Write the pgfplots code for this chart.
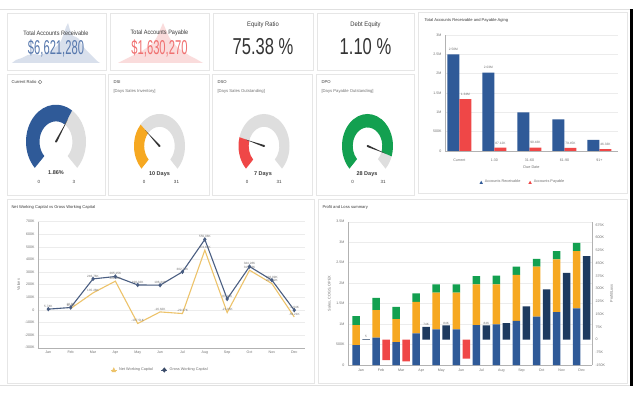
\documentclass[border=0pt]{standalone}
\usepackage{pgfplots}
\pgfplotsset{compat=1.18}
\usepackage{fontspec}
\setmainfont{Liberation Sans}
\setsansfont{Liberation Sans}
\definecolor{arblue}{HTML}{2F5A98}
\definecolor{apred}{HTML}{EF4747}
\definecolor{gorange}{HTML}{F6A821}
\definecolor{ggreen}{HTML}{13A050}
\definecolor{navy}{HTML}{1E3A5F}
\definecolor{ggray}{HTML}{DEDEDE}
\definecolor{txt}{HTML}{3A3A3A}
\definecolor{ltxt}{HTML}{707070}
\definecolor{gridc}{HTML}{ECECEC}
\definecolor{border}{HTML}{E6E6E6}
\definecolor{nwc}{HTML}{EDC36A}
\definecolor{gwc}{HTML}{4A5E82}
\definecolor{valblue}{HTML}{5879AE}
\definecolor{valred}{HTML}{F07070}
\definecolor{mtnblue}{HTML}{D9E0EC}
\definecolor{mtnred}{HTML}{FADCDC}
\newcommand\fs[1]{\fontsize{#1}{#1}\selectfont}
\newcommand\sq[2]{\scalebox{#1}[1]{#2}}
\pgfplotsset{
  dbax/.style={scale only axis, anchor=south west, clip=false,
    axis line style={draw=black!30, line width=0.4pt},
    tick style={draw=none}, ymajorgrids,
    grid style={draw=gridc, line width=0.4pt},
    tick label style={font=\fs{3.6}, text=ltxt},
    label style={font=\fs{3.8}, text=ltxt}},
  mtn/.style={scale only axis, anchor=south west, hide axis, ymin=0, ymax=40}
}
\newcommand\gauge[7]{%
  \begin{scope}[shift={(#1,#2)}]
  \pgfmathsetmacro\irx{#3*#5}\pgfmathsetmacro\iry{#4*#5}
  \pgfmathsetmacro\ea{225-270*#6}
  \fill[ggray] ({#3*cos(-45)},{#4*sin(-45)}) arc[start angle=-45,end angle=\ea,x radius=#3,y radius=#4]
     -- ({\irx*cos(\ea)},{\iry*sin(\ea)}) arc[start angle=\ea,end angle=-45,x radius=\irx,y radius=\iry] -- cycle;
  \fill[#7] ({#3*cos(225)},{#4*sin(225)}) arc[start angle=225,end angle=\ea,x radius=#3,y radius=#4]
     -- ({\irx*cos(\ea)},{\iry*sin(\ea)}) arc[start angle=\ea,end angle=225,x radius=\irx,y radius=\iry] -- cycle;
  \pgfmathsetmacro\nx{0.76*#3*cos(\ea)}\pgfmathsetmacro\ny{0.74*#4*sin(\ea)}
  \fill[black!80] ({1.0*cos(\ea+90)},{1.0*sin(\ea+90)}) -- (\nx,\ny) -- ({1.0*cos(\ea-90)},{1.0*sin(\ea-90)}) -- cycle;
  \fill[black!80] (0,0) circle (1.0);
  \end{scope}}
\begin{document}
\begin{tikzpicture}[x=1pt,y=1pt]
\useasboundingbox (0,0) rectangle (640,394);
\fill[white] (0,0) rectangle (640,394);
\draw[black!12, line width=0.8pt] (0,384.5) -- (630,384.5);
\draw[black!12, line width=0.8pt] (0,9) -- (630,9);
\fill[black] (630,8) rectangle (632.5,385);
\foreach \a/\b/\c/\d in {7/324/106/381, 110/324/209/381, 213/324/313/381, 317/324/414/381, 418/201/627/382, 7/199/105/320, 108/199/209/320, 212/199/312/320, 316/199/414/320, 7/11/314/195, 318/11/627/195}
  \draw[border, line width=0.6pt, fill=white] (\a,\b) rectangle (\c,\d);

% ---------- KPI mountains ----------
\begin{axis}[mtn, at={(12pt,331pt)}, width=88pt, height=40pt, xmin=12, xmax=100]
\addplot[fill=mtnblue, draw=none] coordinates {(12,0)(16,3)(22,5)(28,8)(34,9)(40,8)(46,10)(52,13)(57,17)(61,22)(64,30)(66,36)(68,40)(70,33)(73,27)(76,26)(79,24)(82,18)(86,13)(90,9)(94,5)(97,2)(100,0)} \closedcycle;
\end{axis}
\begin{axis}[mtn, at={(118pt,331pt)}, width=85pt, height=40pt, xmin=118, xmax=203]
\addplot[fill=mtnred, draw=none] coordinates {(118,0)(124,3)(130,6)(136,9)(142,12)(148,16)(153,20)(157,26)(160,33)(163,40)(166,33)(169,26)(173,20)(178,15)(184,11)(190,7)(196,4)(203,0)} \closedcycle;
\end{axis}
\node[text=txt, font=\fs{6.3}] at (56,361) {\sq{0.88}{Total Accounts Receivable}};
\node[text=valblue, font=\fs{20}] at (56,346) {\sq{0.56}{\$6,621,280}};
\node[text=txt, font=\fs{6.3}] at (159.5,361) {\sq{0.88}{Total Accounts Payable}};
\node[text=valred, font=\fs{20}] at (159.5,346) {\sq{0.56}{\$1,630,270}};
\node[text=txt, font=\fs{6.5}] at (263,369) {\sq{0.9}{Equity Ratio}};
\node[text=txt!90!black, font=\fs{23}] at (263,347) {\sq{0.72}{75.38 \%}};
\node[text=txt, font=\fs{6.5}] at (365.5,369) {\sq{0.9}{Debt Equity}};
\node[text=txt!90!black, font=\fs{23}] at (365.5,347) {\sq{0.72}{1.10 \%}};

% ---------- gauges ----------
\node[anchor=west, text=txt, font=\fs{4.2}] at (8,312) {Current Ratio};
\draw[ltxt, line width=0.4pt] (40,312) circle (1.8);
\node[text=ltxt, font=\fs{3}, inner sep=0pt] at (40,312) {i};
\node[anchor=west, text=txt, font=\fs{4.2}] at (110,312) {DSI};
\node[anchor=west, text=ltxt, font=\fs{4.2}] at (110,303) {[Days Sales Inventory]};
\node[anchor=west, text=txt, font=\fs{4.2}] at (214,312) {DSO};
\node[anchor=west, text=ltxt, font=\fs{4.2}] at (214,303) {[Days Sales Outstanding]};
\node[anchor=west, text=txt, font=\fs{4.2}] at (318,312) {DPO};
\node[anchor=west, text=ltxt, font=\fs{4.2}] at (318,303) {[Days Payable Outstanding]};
\gauge{56}{252.3}{30}{37}{0.55}{0.62}{arblue}
\gauge{159.5}{248}{25.5}{32}{0.6}{0.3226}{gorange}
\gauge{264}{248}{25.5}{32}{0.6}{0.2258}{apred}
\gauge{367.5}{248}{25.5}{32}{0.58}{0.9032}{ggreen}
\node[text=txt, font=\bfseries\fs{5.5}] at (56,221) {1.86\%};
\node[text=txt, font=\fs{4.5}] at (39,212) {0};
\node[text=txt, font=\fs{4.5}] at (74,212) {3};
\node[text=txt, font=\bfseries\fs{5.5}] at (159.5,220) {10 Days};
\node[text=txt, font=\fs{4.5}] at (144,212) {0};
\node[text=txt, font=\fs{4.5}] at (176.5,212) {31};
\node[text=txt, font=\bfseries\fs{5.5}] at (263,220) {7 Days};
\node[text=txt, font=\fs{4.5}] at (247,212) {0};
\node[text=txt, font=\fs{4.5}] at (279,212) {31};
\node[text=txt, font=\bfseries\fs{5.5}] at (367,220) {28 Days};
\node[text=txt, font=\fs{4.5}] at (352.5,212) {0};
\node[text=txt, font=\fs{4.5}] at (383,212) {31};

% ---------- Aging ----------
\node[anchor=west, text=txt, font=\fs{4.1}] at (421,374) {Total Accounts Receivable and Payable Aging};
\begin{axis}[dbax, at={(445pt,243pt)}, width=173pt, height=116pt,
  ybar, bar width=12pt, xmin=-0.41, xmax=4.53, ymin=0, ymax=3,
  ytick={0,0.5,...,3}, yticklabels={0,500K,1M,1.5M,2M,2.5M,3M},
  xtick={0,...,4}, xticklabels={Current,1-30,31-60,61-90,91+},
  xlabel={Due Date}, xlabel style={yshift=2pt},
  axis x line*=bottom, axis y line*=left,
  point meta=explicit symbolic,
  every node near coord/.append style={font=\fs{3.2}, text=ltxt},
  legend style={draw=none, fill=none, font=\fs{3.8}, text=ltxt, at={(0.45,-0.27)}, anchor=center, legend columns=-1,
     /tikz/every even column/.append style={column sep=6pt}}]
\addplot[fill=arblue, draw=none, bar shift=-6pt, nodes near coords,
  legend image code/.code={\fill[arblue] (0pt,-1.6pt) -- (3.4pt,-1.6pt) -- (1.7pt,1.6pt) -- cycle;}]
  coordinates {(0,2.50)[2.50M] (1,2.03)[2.03M]};
\addplot[fill=apred, draw=none, bar shift=6pt, nodes near coords,
  legend image code/.code={\fill[apred] (0pt,-1.6pt) -- (3.4pt,-1.6pt) -- (1.7pt,1.6pt) -- cycle;}]
  coordinates {(0,1.34)[1.34M] (1,0.087)[87.12K] (2,0.090)[90.43K] (3,0.079)[79.45K] (4,0.046)[46.33K]};
\addplot[fill=arblue, draw=none, bar shift=-6pt, forget plot]
  coordinates {(2,1.00) (3,0.82) (4,0.29)};
\legend{Accounts Receivable, Accounts Payable}
\end{axis}

% ---------- Working capital ----------
\node[anchor=west, text=txt, font=\fs{4.1}] at (8,187) {Net Working Capital vs Gross Working Capital};
\begin{axis}[dbax, at={(38pt,46.3pt)}, width=267pt, height=126pt,
  xmin=-0.46, xmax=11.48, ymin=-300, ymax=700,
  ytick={-300,-200,...,700}, yticklabels={-300K,-200K,-100K,0,100K,200K,300K,400K,500K,600K,700K},
  xtick={0,...,11}, xticklabels={Jan,Feb,Mar,Apr,May,Jun,Jul,Aug,Sep,Oct,Nov,Dec},
  ylabel={Values}, ylabel style={yshift=-2pt},
  axis x line*=bottom, axis y line*=left,
  nodes near coords, point meta=explicit symbolic,
  every node near coord/.append style={font=\fs{3.1}, text=ltxt, inner sep=1pt},
  legend style={draw=none, fill=none, font=\fs{3.8}, text=ltxt, at={(0.457,-0.177)}, anchor=center, legend columns=-1,
     /tikz/every even column/.append style={column sep=6pt}}]
\addplot[nwc, line width=1.1pt, mark=none,
  legend image code/.code={\draw[nwc, line width=0.8pt] (0pt,0pt) -- (6pt,0pt); \fill[nwc] (1.6pt,-1.5pt) -- (4.4pt,-1.5pt) -- (3pt,1.5pt) -- cycle;}]
  coordinates {(1,11)[11.2K] (2,135)[135.28K] (3,228)[228.46K] (4,-108)[-107.51K] (5,-16)[-16.62K] (6,-29)[-29.37K] (7,474)[474.63K] (8,-21)[-21.05K] (9,315)[315.43K] (10,209)[209.62K] (11,-56)[-56.21K]};
\addplot[gwc, line width=1.1pt, mark=diamond*, mark size=1.4pt, mark options={fill=gwc!80!black, draw=none},
  legend image code/.code={\draw[gwc, line width=0.8pt] (0pt,0pt) -- (6pt,0pt); \fill[gwc!80!black] (3pt,-1.8pt) -- (4.5pt,0pt) -- (3pt,1.8pt) -- (1.5pt,0pt) -- cycle;}]
  coordinates {(0,6)[5.74K] (1,19)[19.3K] (2,246)[246.76K] (3,265)[265.15K] (4,198)[198.32K] (5,196)[196.44K] (6,302)[302.71K] (7,559)[559.08K] (8,87)[87.16K] (9,344)[344.28K] (10,236)[236.09K] (11,-2)[-2.04K]};
\legend{Net Working Capital, Gross Working Capital}
\end{axis}

% ---------- Profit and loss ----------
\node[anchor=west, text=txt, font=\fs{4.1}] at (319,187) {Profit and Loss summary};
\begin{axis}[dbax, at={(348pt,29pt)}, width=244pt, height=143.3pt,
  ybar stacked, bar width=7.5pt, bar shift=-5pt,
  xmin=-0.648, xmax=11.515, ymin=0, ymax=3.5,
  ytick={0,0.5,...,3.5}, yticklabels={0,500K,1M,1.5M,2M,2.5M,3M,3.5M},
  xtick={0,...,11}, xticklabels={Jan,Feb,Mar,Apr,May,Jun,Jul,Aug,Sep,Oct,Nov,Dec},
  ylabel={Sales, COGS, OPEX}, ylabel style={yshift=-2pt},
  axis x line*=bottom, axis y line*=left]
\addplot[fill=arblue, draw=none] coordinates {(0,0.488)(1,0.666)(2,0.56)(3,0.77)(4,0.87)(5,0.87)(6,0.976)(7,0.99)(8,1.08)(9,1.18)(10,1.29)(11,1.38)};
\addplot[fill=gorange, draw=none] coordinates {(0,0.488)(1,0.674)(2,0.56)(3,0.77)(4,0.90)(5,0.90)(6,0.994)(7,0.98)(8,1.12)(9,1.22)(10,1.29)(11,1.40)};
\addplot[fill=ggreen, draw=none] coordinates {(0,0.219)(1,0.30)(2,0.30)(3,0.21)(4,0.20)(5,0.20)(6,0.20)(7,0.21)(8,0.20)(9,0.19)(10,0.20)(11,0.20)};
\end{axis}
\begin{axis}[dbax, at={(348pt,29pt)}, width=244pt, height=143.3pt,
  ybar, bar width=7.5pt, ymajorgrids=false,
  xmin=-0.648, xmax=11.515, ymin=-150, ymax=694,
  ytick={-150,-75,...,675}, yticklabels={-150K,-75K,0,75K,150K,225K,300K,375K,450K,525K,600K,675K},
  axis y line*=right, axis x line=none,
  ylabel={Profit/Loss}, ylabel style={yshift=2pt},
  point meta=explicit symbolic,
  every node near coord/.append style={font=\fs{3.1}, text=ltxt, inner sep=1pt}]
\addplot[fill=navy, draw=none, bar shift=5pt, nodes near coords] coordinates {(0,3)[5] (3,74)[74K] (4,84)[84K] (6,84)[84K]};
\addplot[fill=navy, draw=none, bar shift=5pt] coordinates {(7,96)(8,196)(9,295)(10,392)(11,491)};
\addplot[fill=apred, draw=none, bar shift=5pt] coordinates {(1,-122)(2,-128)(5,-112)};
\end{axis}
\end{tikzpicture}
\end{document}
